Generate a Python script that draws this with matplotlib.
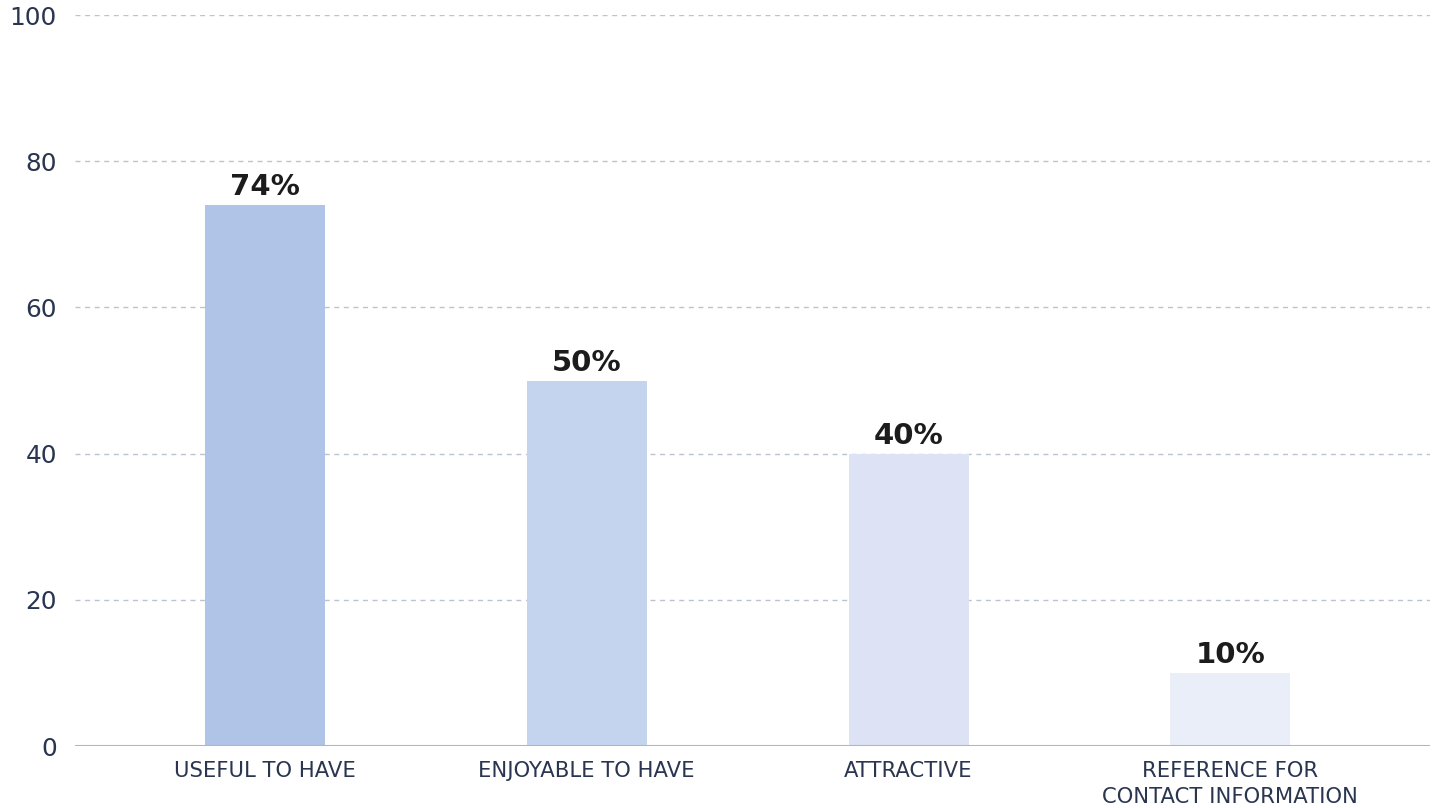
import matplotlib.pyplot as plt

# Survey results
categories = ['USEFUL TO HAVE', 'ENJOYABLE TO HAVE', 'ATTRACTIVE', 'REFERENCE FOR\nCONTACT INFORMATION']
values = [74, 50, 40, 10]
bar_colors = ['#afc4e6', '#c4d4ee', '#dde2f4', '#e9eef8']
y_ticks = [0, 20, 40, 60, 80, 100]

plt.rcParams['font.family'] = ['DejaVu Sans']

fig = plt.figure(figsize=(14.39, 8.08), dpi=100)
ax = fig.add_axes([0.0521, 0.0767, 0.9416, 0.9047])

x = list(range(len(categories)))
ax.bar(x, values, width=0.373, color=bar_colors, zorder=2)

for xi, v in zip(x, values):
    ax.text(xi, v + 0.5, f'{v}%', ha='center', va='bottom',
            fontsize=21, fontweight='bold', color='#1c1c1c', zorder=3)

ax.set_xlim(-0.59, 3.62)
ax.set_ylim(0, 100)
ax.set_yticks(y_ticks)
ax.set_xticks(x)
ax.set_xticklabels(categories, fontsize=15.2, color='#2a3550', linespacing=1.35)
ax.tick_params(axis='y', length=0, pad=13, labelsize=17.8, labelcolor='#2a3550')
ax.tick_params(axis='x', length=0, pad=11)

# dashed horizontal grid, solid baseline
for t in y_ticks[1:]:
    ax.axhline(t, color='#bcc3d0', linewidth=1, linestyle=(0, (3.6, 3.3)), zorder=1)
ax.axhline(0, color='#aeb6c6', linewidth=2.2, zorder=3)

for s in ax.spines.values():
    s.set_visible(False)

plt.savefig('out.png', dpi=100)
